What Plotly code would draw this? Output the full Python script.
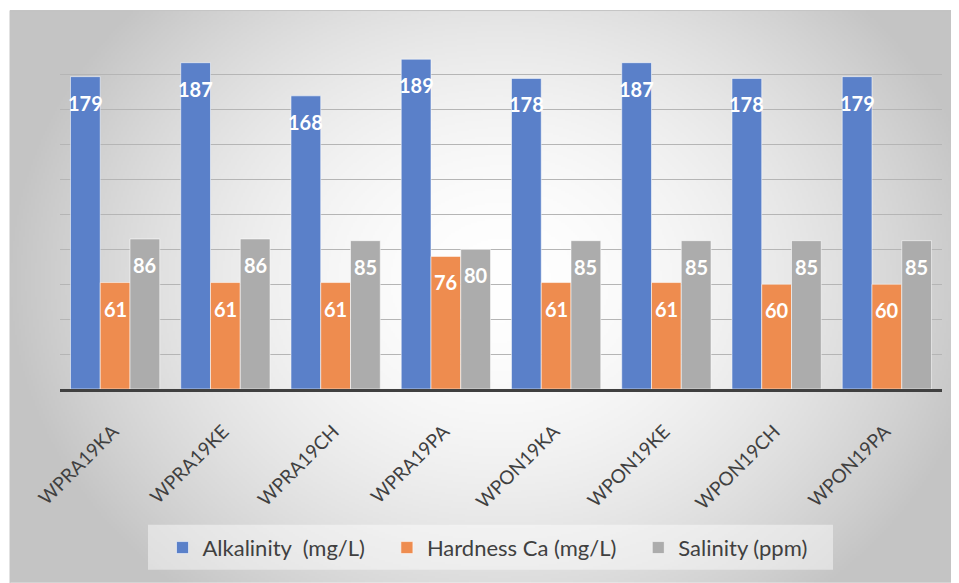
import base64
import struct
import zlib

import numpy as np
import plotly.graph_objects as go

# ---------------- data ----------------
samples = ["WPRA19KA", "WPRA19KE", "WPRA19CH", "WPRA19PA",
           "WPON19KA", "WPON19KE", "WPON19CH", "WPON19PA"]
alkalinity = [179, 187, 168, 189, 178, 187, 178, 179]
hardness_ca = [61, 61, 61, 76, 61, 61, 60, 60]
salinity = [86, 86, 85, 80, 85, 85, 85, 85]
series_names = ["Alkalinity \u00a0(mg/L)", "Hardness Ca (mg/L)", "Salinity (ppm)"]
series_values = [alkalinity, hardness_ca, salinity]
series_colors = ["#5a80c9", "#ee8c4f", "#acacac"]

# ---------------- geometry ----------------
# the page body has an 8px margin, so the figure starts at (8, 8) of the window
OFF = 8
WIN_W, WIN_H = 959, 583
W, H = WIN_W - OFF, WIN_H - OFF
PLOT_L, PLOT_R, PLOT_T, PLOT_B = 60, 942, 39.5, 389  # window pixels
ML, MR = PLOT_L - OFF, WIN_W - PLOT_R
MT, MB = PLOT_T - OFF, WIN_H - PLOT_B
PW, PH = W - ML - MR, H - MT - MB
BARGAP = 0.19
NSER = len(series_values)
BW = (1 - BARGAP) / NSER


def px_to_paper_x(px):
    return (px - PLOT_L) / PW


def px_to_paper_y(py):
    return (PLOT_B - py) / PH


# ---------------- background radial gradient (PNG built in memory) ----------------
FX0, FY0, FX1, FY1 = 10, 10, 959, 583
GW, GH = 475, 287
xs = FX0 + (np.arange(GW) + 0.5) * (FX1 - FX0) / GW
ys = FY0 + (np.arange(GH) + 0.5) * (FY1 - FY0) / GH
XX, YY = np.meshgrid(xs, ys)
d = np.sqrt(((XX - 500) / 480) ** 2 + ((YY - 280) / 400) ** 2)
val = 255 - 56 * np.clip(d, 0, 1.02) ** 1.8
img = np.clip(val, 0, 255).astype(np.uint8)


def _chunk(tag, data):
    return (struct.pack(">I", len(data)) + tag + data
            + struct.pack(">I", zlib.crc32(tag + data) & 0xFFFFFFFF))


raw = b"".join(b"\x00" + row.tobytes() for row in img)
png = (b"\x89PNG\r\n\x1a\n"
       + _chunk(b"IHDR", struct.pack(">IIBBBBB", GW, GH, 8, 0, 0, 0, 0))
       + _chunk(b"IDAT", zlib.compress(raw, 9))
       + _chunk(b"IEND", b""))
bg_src = "data:image/png;base64," + base64.b64encode(png).decode()

# ---------------- figure ----------------
fig = go.Figure()
for name, vals, col in zip(series_names, series_values, series_colors):
    fig.add_trace(go.Bar(
        x=samples, y=vals, name=name + "\u00a0\u00a0\u00a0",
        marker=dict(color=col, line=dict(color="rgba(255,255,255,0.55)", width=1)),
        hoverinfo="x+y",
    ))

annotations = []
for k, vals in enumerate(series_values):
    for i, v in enumerate(vals):
        annotations.append(dict(
            x=i + (k - (NSER - 1) / 2) * BW, y=v, xref="x", yref="y",
            text=str(v), showarrow=False, yanchor="middle", yshift=-26,
            font=dict(family="Lato", size=20, color="white", weight="bold"),
        ))

fig.update_layout(
    width=W, height=H,
    margin=dict(l=ML, r=MR, t=MT, b=MB, pad=0),
    barmode="group", bargap=BARGAP, bargroupgap=0,
    paper_bgcolor="white", plot_bgcolor="rgba(0,0,0,0)",
    font=dict(family="Lato", color="#404040"),
    showlegend=True,
    legend=dict(
        orientation="h", x=px_to_paper_x(496), xanchor="center",
        y=px_to_paper_y(548), yanchor="middle",
        bgcolor="rgba(0,0,0,0)", borderwidth=0,
        font=dict(family="Lato", size=22, color="#404040"),
        itemwidth=30, traceorder="normal",
    ),
    xaxis=dict(
        showline=True, linecolor="#404040", linewidth=3,
        showgrid=False, ticks="", tickangle=-45,
        tickfont=dict(family="Lato", size=19, color="#404040"),
        ticklabelshift=-2, ticklabelstandoff=21,
        range=[-0.5, len(samples) - 0.5],
    ),
    yaxis=dict(
        range=[0, 200], dtick=20, showticklabels=False, ticks="",
        showgrid=True, gridcolor="#b5b5b5", gridwidth=1,
        zeroline=False, showline=False,
    ),
    annotations=annotations,
    images=[dict(
        source=bg_src, xref="paper", yref="paper",
        x=px_to_paper_x(FX0), y=px_to_paper_y(FY0),
        sizex=(FX1 - FX0) / PW, sizey=(FY1 - FY0) / PH,
        xanchor="left", yanchor="top", sizing="stretch", layer="below",
    )],
    shapes=[
        dict(
            type="rect", xref="paper", yref="paper",
            x0=px_to_paper_x(FX0), x1=px_to_paper_x(FX1 + 2),
            y0=px_to_paper_y(FY1 + 2), y1=px_to_paper_y(FY0),
            line=dict(color="#c4c4c4", width=1), fillcolor="rgba(0,0,0,0)",
            layer="below",
        ),
        dict(  # legend panel
            type="rect", xref="paper", yref="paper",
            x0=px_to_paper_x(148), x1=px_to_paper_x(833),
            y0=px_to_paper_y(570), y1=px_to_paper_y(525),
            line=dict(width=0), fillcolor="rgba(255,255,255,0.45)",
            layer="below",
        ),
    ],
)

fig.write_html("out.html")
